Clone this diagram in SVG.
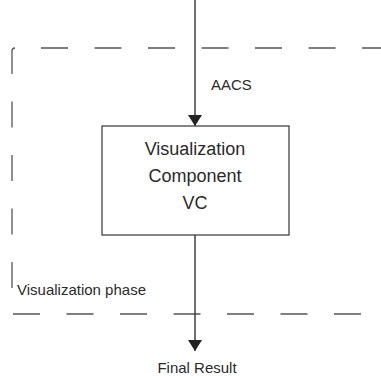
<svg xmlns="http://www.w3.org/2000/svg" width="381" height="376" viewBox="0 0 381 376">
  <style>
    .phase { fill: none; stroke: #555; stroke-width: 1.3; stroke-dasharray: 27 26.5; }
    .edge { fill: none; stroke: #333; stroke-width: 1.4; }
    .box { fill: #fff; stroke: #444; stroke-width: 1.3; }
    text { font-family: "Liberation Sans", Arial, sans-serif; fill: #2a2a2a; }
    .small { font-size: 15px; }
    .label { font-size: 18px; text-anchor: middle; }
  </style>
  <defs>
    <marker id="arrow" viewBox="0 0 11 14" markerWidth="11" markerHeight="14" refX="11" refY="7" orient="auto" markerUnits="userSpaceOnUse">
      <path d="M0,0 L11,7 L0,14 Z" fill="#222"/>
    </marker>
  </defs>

  <!-- Phase boundary (dashed, open on the right) -->
  <g id="phase-boundary">
    <line class="phase" x1="41" y1="48" x2="381" y2="48"/>
    <path d="M15,48 Q12,48 12,51 L12,74" fill="none" stroke="#555" stroke-width="1.3"/>
    <line class="phase" x1="12" y1="101.5" x2="12" y2="290" style="stroke-dasharray: 26 27.5"/>
    <line class="phase" x1="13" y1="314" x2="381" y2="314"/>
    <text class="small" x="17" y="295">Visualization phase</text>
  </g>

  <!-- Connectors -->
  <g id="connectors">
    <line class="edge" x1="195" y1="0" x2="195" y2="126" marker-end="url(#arrow)"/>
    <line class="edge" x1="195" y1="235" x2="195" y2="351" marker-end="url(#arrow)"/>
    <text class="small" x="211" y="90">AACS</text>
  </g>

  <!-- Visualization component -->
  <g id="vc">
    <rect class="box" x="102" y="126" width="187" height="109"/>
    <text class="label" x="195" y="155">Visualization</text>
    <text class="label" x="195" y="182">Component</text>
    <text class="label" x="195" y="209">VC</text>
  </g>

  <!-- Output label -->
  <g id="final-result">
    <text class="small" x="197" y="373" text-anchor="middle">Final Result</text>
  </g>
</svg>
